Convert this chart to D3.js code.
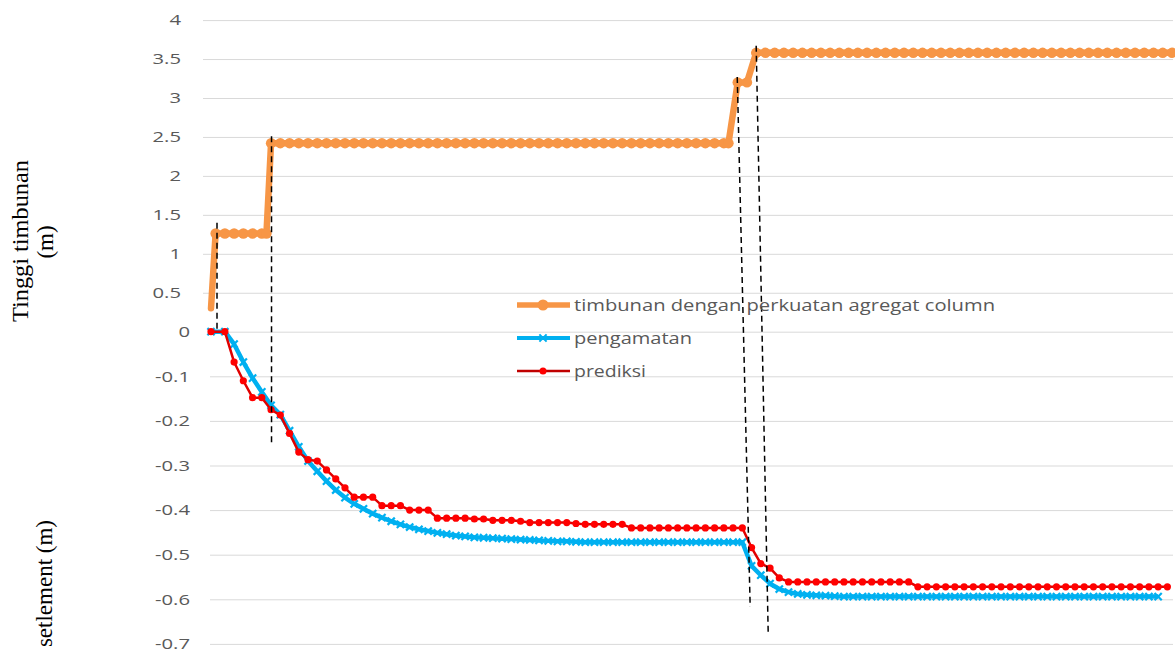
<!DOCTYPE html>
<html><head><meta charset="utf-8">
<script src="https://cdn.jsdelivr.net/npm/d3@7"></script>
<style>body{margin:0;background:#fff}svg{display:block}</style>
</head><body><svg id="c" width="1175" height="653"></svg>
<script>
// ---- data ----
const seriesNames = ["timbunan dengan perkuatan agregat column", "pengamatan", "prediksi"];
const topTicks = [0.5, 1, 1.5, 2, 2.5, 3, 3.5, 4];
const bottomTicks = [0, -0.1, -0.2, -0.3, -0.4, -0.5, -0.6, -0.7];
const topTitle = ["Tinggi timbunan", "(m)"];
const bottomTitle = "setlement (m)";

const hariTimbunan = [0,1,3,5,7,9,11,12,13,15,17,19,21,23,25,27,29,31,33,35,37,39,41,43,45,47,49,51,53,55,57,59,61,63,65,67,69,71,73,75,77,79,81,83,85,87,89,91,93,95,97,99,101,103,105,107,109,111,112,114,116,118,120,122,124,126,128,130,132,134,136,138,140,142,144,146,148,150,152,154,156,158,160,162,164,166,168,170,172,174,176,178,180,182,184,186,188,190,192,194,196,198,200,202,204,206,208];
const timbunan = [0.3,1.26,1.26,1.26,1.26,1.26,1.26,1.26,
2.42,2.42,2.42,2.42,2.42,2.42,2.42,2.42,2.42,2.42,2.42,2.42,2.42,2.42,2.42,2.42,2.42,2.42,2.42,2.42,2.42,2.42,2.42,2.42,2.42,2.42,2.42,2.42,2.42,2.42,2.42,2.42,2.42,2.42,2.42,2.42,2.42,2.42,2.42,2.42,2.42,2.42,2.42,2.42,2.42,2.42,2.42,2.42,2.42,2.42,2.42,
3.2,3.2,
3.58,3.58,3.58,3.58,3.58,3.58,3.58,3.58,3.58,3.58,3.58,3.58,3.58,3.58,3.58,3.58,3.58,3.58,3.58,3.58,3.58,3.58,3.58,3.58,3.58,3.58,3.58,3.58,3.58,3.58,3.58,3.58,3.58,3.58,3.58,3.58,3.58,3.58,3.58,3.58,3.58,3.58,3.58,3.58,3.58,3.58];

const hariPengukuran = [0,3,5,7,9,11,13,15,17,19,21,23,25,27,29,31,33,35,37,39,41,43,45,47,49,51,53,55,57,59,61,63,65,67,69,71,73,75,77,79,81,83,85,87,89,91,93,95,97,99,101,103,105,107,109,111,113,115,117,119,121,123,125,127,129,131,133,135,137,139,141,143,145,147,149,151,153,155,157,159,161,163,165,167,169,171,173,175,177,179,181,183,185,187,189,191,193,195,197,199,201,203,205,207];

const pengamatan = [0,0,-0.028,-0.068,-0.104,-0.135,-0.165,-0.186,-0.222,-0.258,-0.29,-0.313,-0.335,-0.355,-0.372,-0.386,-0.397,-0.408,-0.417,-0.425,-0.432,-0.438,-0.443,-0.447,-0.451,-0.454,-0.457,-0.459,-0.461,-0.462,-0.463,-0.464,-0.465,-0.466,-0.467,-0.468,-0.469,-0.47,-0.47,-0.471,
-0.472,-0.472,-0.472,-0.472,-0.472,-0.472,-0.472,-0.472,-0.472,-0.472,-0.472,-0.472,-0.472,-0.472,-0.472,-0.472,-0.472,-0.472,
-0.525,-0.546,-0.565,-0.577,-0.584,-0.588,-0.59,-0.591,-0.592,-0.593,
-0.594,-0.594,-0.594,-0.594,-0.594,-0.594,-0.594,-0.594,-0.594,-0.594,-0.594,-0.594,-0.594,-0.594,-0.594,-0.594,-0.594,-0.594,-0.594,-0.594,-0.594,-0.594,-0.594,-0.594,-0.594,-0.594,-0.594,-0.594,-0.594,-0.594,-0.594,-0.594,-0.594,-0.594,-0.594];

const prediksi = [0,0,-0.068,-0.11,-0.148,-0.148,-0.175,-0.187,-0.228,-0.27,-0.287,-0.29,-0.31,-0.33,-0.35,-0.371,-0.371,-0.371,-0.39,-0.39,-0.39,-0.40,-0.40,-0.40,-0.418,-0.418,-0.418,-0.418,-0.42,-0.42,-0.423,-0.423,-0.423,-0.425,-0.428,-0.428,-0.428,-0.428,-0.428,-0.43,-0.432,-0.432,-0.432,-0.432,-0.432,
-0.44,-0.44,-0.44,-0.44,-0.44,-0.44,-0.44,-0.44,-0.44,-0.44,-0.44,-0.44,-0.44,
-0.484,-0.52,-0.53,-0.552,
-0.561,-0.561,-0.561,-0.561,-0.561,-0.561,-0.561,-0.561,-0.561,-0.561,-0.561,-0.561,-0.561,-0.561,
-0.572,-0.572,-0.572,-0.572,-0.572,-0.572,-0.572,-0.572,-0.572,-0.572,-0.572,-0.572,-0.572,-0.572,-0.572,-0.572,-0.572,-0.572,-0.572,-0.572,-0.572,-0.572,-0.572,-0.572,-0.572,-0.572,-0.572,-0.572];

// annotation dashed lines: [dayTop, valueTop(top axis), dayBottom, valueBottom(bottom axis)]
const garisBatas = [
  [1.3, 1.4, 1.3, 0.0],
  [13.1, 2.51, 13.1, -0.25],
  [113.9, 3.27, 116.7, -0.617],
  [118.0, 3.67, 120.6, -0.675]
];

// ---- drawing ----
const svg = d3.select('#c');
const x = d3.scaleLinear().domain([0, 208]).range([211, 1172]);
const yTop = d3.scaleLinear().domain([0, 4]).range([331.7, 20.1]);
const yBot = d3.scaleLinear().domain([-0.7, 0]).range([643.9, 331.7]);

const fontSans = "'Open Sans', 'DejaVu Sans', sans-serif";
const stretch = 1.35;

function styleAxis(g) {
  g.select('.domain').remove();
  g.selectAll('.tick line').attr('stroke', '#D9D9D9').attr('stroke-width', 1);
  g.selectAll('.tick text')
    .attr('fill', '#595959')
    .attr('font-family', fontSans)
    .attr('font-size', 15)
    .each(function () {
      const w = this.getComputedTextLength();
      d3.select(this).attr('textLength', w * stretch).attr('lengthAdjust', 'spacingAndGlyphs');
    });
}

const gTop = svg.append('g').attr('transform', 'translate(203,0)')
  .call(d3.axisLeft(yTop).tickValues(topTicks).tickSize(-(1173 - 203)).tickPadding(22).tickFormat(d => String(d)));
styleAxis(gTop);

const gBot = svg.append('g').attr('transform', 'translate(210,0)')
  .call(d3.axisLeft(yBot).tickValues(bottomTicks).tickSize(-(1173 - 210)).tickPadding(20).tickFormat(d => String(d)));
styleAxis(gBot);

// axis titles
const serif = "'Liberation Serif', 'Times New Roman', serif";
svg.append('text').attr('transform', 'translate(28,241) rotate(-90)')
  .attr('text-anchor', 'middle').attr('font-family', serif).attr('font-size', 23).attr('fill', '#000')
  .attr('textLength', 162).attr('lengthAdjust', 'spacingAndGlyphs')
  .text(topTitle[0]);
svg.append('text').attr('transform', 'translate(53,242) rotate(-90)')
  .attr('text-anchor', 'middle').attr('font-family', serif).attr('font-size', 23).attr('fill', '#000')
  .text(topTitle[1]);
svg.append('text').attr('transform', 'translate(52,520) rotate(-90)')
  .attr('text-anchor', 'end').attr('font-family', serif).attr('font-size', 23).attr('fill', '#000')
  .text(bottomTitle);

// series
const cOrange = '#F79646', cBlue = '#00B0F0', cRedLine = '#E00000', cRed = '#FF0000';

const orangeData = hariTimbunan.map((d, i) => [d, timbunan[i]]);
const blueData = pengamatan.map((v, i) => [hariPengukuran[i], v]);
const redData = prediksi.map((v, i) => [hariPengukuran[i], v]);

const lineTop = d3.line().x(d => x(d[0])).y(d => yTop(d[1]));
const lineBot = d3.line().x(d => x(d[0])).y(d => yBot(d[1]));

svg.append('path').datum(orangeData).attr('d', lineTop)
  .attr('fill', 'none').attr('stroke', cOrange).attr('stroke-width', 6.5).attr('stroke-linejoin', 'round').attr('stroke-linecap', 'round');
svg.append('g').selectAll('circle').data(orangeData.slice(1)).join('circle')
  .attr('cx', d => x(d[0])).attr('cy', d => yTop(d[1])).attr('r', 5.2).attr('fill', cOrange);

const crossPath = 'M-3.6,-3.6L3.6,3.6M-3.6,3.6L3.6,-3.6';
svg.append('path').datum(blueData).attr('d', lineBot)
  .attr('fill', 'none').attr('stroke', cBlue).attr('stroke-width', 4.5).attr('stroke-linejoin', 'round');
svg.append('g').selectAll('path').data(blueData).join('path')
  .attr('transform', d => `translate(${x(d[0])},${yBot(d[1])})`)
  .attr('d', crossPath).attr('stroke', cBlue).attr('stroke-width', 2.2).attr('fill', 'none');

svg.append('path').datum(redData).attr('d', lineBot)
  .attr('fill', 'none').attr('stroke', cRedLine).attr('stroke-width', 2.5).attr('stroke-linejoin', 'round');
svg.append('g').selectAll('circle').data(redData).join('circle')
  .attr('cx', d => x(d[0])).attr('cy', d => yBot(d[1])).attr('r', 3.6).attr('fill', cRed);

// dashed annotation lines
svg.append('g').selectAll('line').data(garisBatas).join('line')
  .attr('x1', d => x(d[0])).attr('y1', d => yTop(d[1]))
  .attr('x2', d => x(d[2])).attr('y2', d => yBot(d[3]))
  .attr('stroke', '#000').attr('stroke-width', 1.5).attr('stroke-dasharray', '6,4');

// legend
const legend = svg.append('g');
const rows = [305, 338, 371];
const textLens = [421, 118, 72];
rows.forEach((yy, i) => {
  const g = legend.append('g').attr('transform', `translate(517,${yy})`);
  if (i === 0) {
    g.append('line').attr('x1', 0).attr('x2', 53).attr('stroke', cOrange).attr('stroke-width', 5.5);
    g.append('circle').attr('cx', 26).attr('r', 5.5).attr('fill', cOrange);
  } else if (i === 1) {
    g.append('line').attr('x1', 0).attr('x2', 53).attr('stroke', cBlue).attr('stroke-width', 4);
    g.append('path').attr('transform', 'translate(26,0)').attr('d', crossPath).attr('stroke', cBlue).attr('stroke-width', 2);
  } else {
    g.append('line').attr('x1', 0).attr('x2', 53).attr('stroke', '#C00000').attr('stroke-width', 2.5);
    g.append('circle').attr('cx', 26).attr('r', 3.5).attr('fill', cRed);
  }
  g.append('text').attr('x', 57).attr('y', 6).attr('fill', '#595959')
    .attr('font-family', fontSans).attr('font-size', 16)
    .attr('textLength', textLens[i]).attr('lengthAdjust', 'spacingAndGlyphs')
    .text(seriesNames[i]);
});
</script></body></html>
